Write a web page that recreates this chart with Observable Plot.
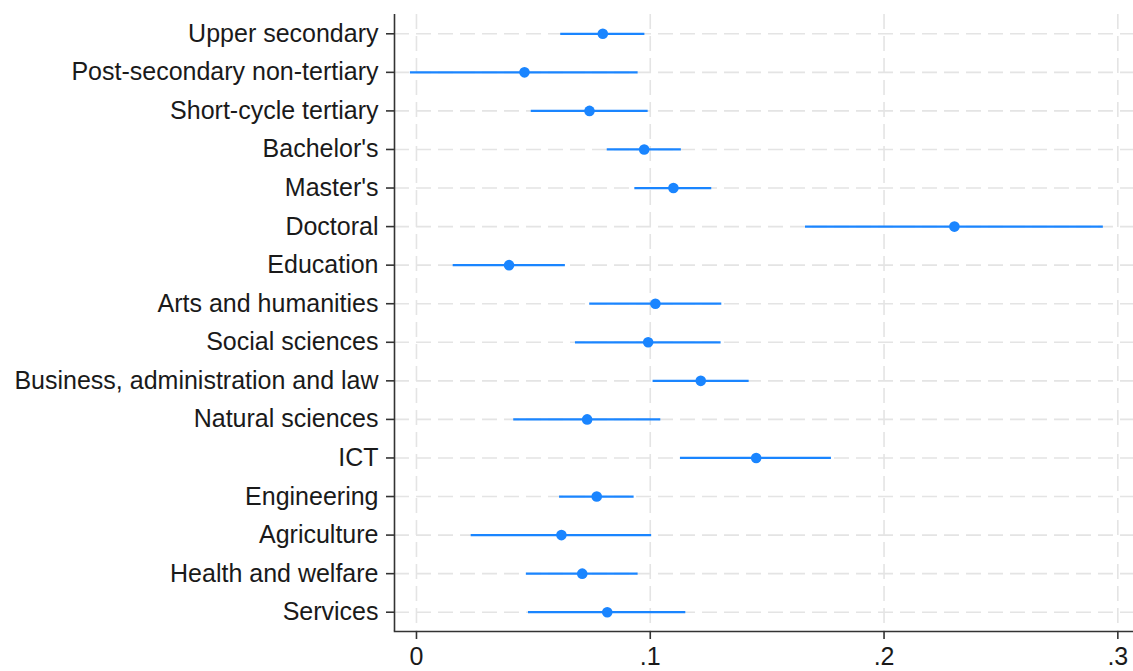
<!DOCTYPE html>
<html>
<head>
<meta charset="utf-8">
<script src="https://cdn.jsdelivr.net/npm/d3@7"></script>
<script src="https://cdn.jsdelivr.net/npm/@observablehq/plot@0.6"></script>
<style>
  html, body { margin: 0; padding: 0; background: #fff; }
  #chart svg { display: block; font-family: "Liberation Sans", Arial, sans-serif; }
</style>
</head>
<body>
<div id="chart"></div>
<script>
const categories = [
  "Upper secondary",
  "Post-secondary non-tertiary",
  "Short-cycle tertiary",
  "Bachelor's",
  "Master's",
  "Doctoral",
  "Education",
  "Arts and humanities",
  "Social sciences",
  "Business, administration and law",
  "Natural sciences",
  "ICT",
  "Engineering",
  "Agriculture",
  "Health and welfare",
  "Services"
];
const estimates = [0.0797, 0.0462, 0.0740, 0.0974, 0.1099, 0.2301, 0.0396, 0.1022, 0.0991, 0.1216, 0.0730, 0.1453, 0.0771, 0.0620, 0.0709, 0.0816];
const lower     = [0.0617, -0.0026, 0.0491, 0.0816, 0.0934, 0.1664, 0.0157, 0.0741, 0.0680, 0.1012, 0.0416, 0.1129, 0.0612, 0.0234, 0.0470, 0.0479];
const upper     = [0.0977, 0.0948, 0.0991, 0.1133, 0.1263, 0.2938, 0.0637, 0.1306, 0.1303, 0.1423, 0.1045, 0.1775, 0.0931, 0.1006, 0.0948, 0.1152];
const xTicks = [0, 0.1, 0.2, 0.3];
const xTickLabels = ["0", ".1", ".2", ".3"];
const xDomain = [-0.0094, 0.3067];

const data = categories.map((c, i) => ({cat: c, est: estimates[i], lo: lower[i], hi: upper[i]}));
const blue = "#1a85ff";
const grid = "#e4e4e4";

const plot = Plot.plot({
  width: 1133,
  height: 671,
  marginLeft: 394,
  marginRight: 0,
  marginTop: 14,
  marginBottom: 40,
  style: {fontFamily: "'Liberation Sans', Arial, sans-serif", fontSize: "25px", color: "#1a1a1a", background: "#fff"},
  x: {domain: xDomain, label: null},
  y: {type: "point", domain: categories, padding: 0.5, round: false, label: null},
  marks: [
    Plot.ruleX(xTicks, {stroke: grid, strokeWidth: 1.6, strokeDasharray: "15,7"}),
    Plot.ruleY(categories, {y: d => d, stroke: grid, strokeWidth: 1.6, strokeDasharray: "15,7"}),
    Plot.ruleX([xDomain[0]], {stroke: "#333", strokeWidth: 1.6}),
    Plot.frame({anchor: "bottom", stroke: "#333", strokeWidth: 1.6}),
    Plot.axisY({tickSize: 8, tickPadding: 8, fontSize: 25, stroke: "#333", strokeWidth: 1.6, label: null}),
    Plot.axisX({ticks: xTicks, tickFormat: (d) => xTickLabels[xTicks.indexOf(d)], tickSize: 8, tickPadding: 8, fontSize: 25, stroke: "#333", strokeWidth: 1.6, label: null}),
    Plot.ruleY(data, {y: "cat", x1: "lo", x2: "hi", stroke: blue, strokeWidth: 2.3}),
    Plot.dot(data, {y: "cat", x: "est", r: 5.3, fill: blue, stroke: null})
  ]
});
document.getElementById("chart").appendChild(plot);
</script>
</body>
</html>
